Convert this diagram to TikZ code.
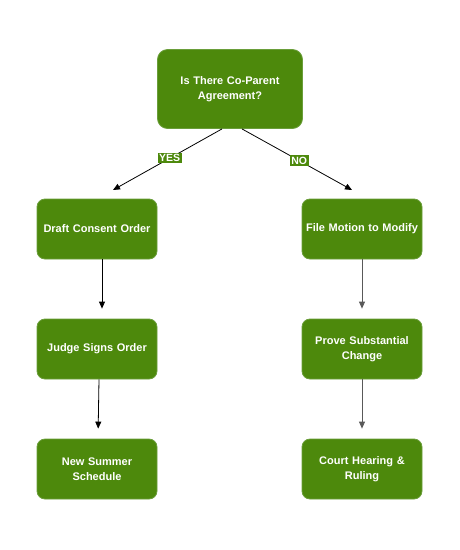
\documentclass[tikz,border=0pt]{standalone}
\usepackage{fontspec}
\setmainfont{Liberation Sans}
\usetikzlibrary{arrows.meta,calc}
\definecolor{gfill}{HTML}{4D890C}
\definecolor{gline}{HTML}{6A9E3A}
\begin{document}
\begin{tikzpicture}[x=1pt,y=-1pt,
  box/.style={draw=gline,line width=0.8pt,fill=gfill,rounded corners=8pt,
    minimum width=120pt,minimum height=60pt,align=center,text=white,
    font=\fontsize{11}{14.5}\selectfont\bfseries,inner xsep=0pt,inner ysep=2pt,text width=120pt},
  topbox/.style={box,minimum width=145pt,minimum height=79pt,rounded corners=10pt,text width=135pt},
  lbl/.style={fill=gfill,text=white,font=\fontsize{10.5}{12}\selectfont\bfseries,inner sep=1.5pt},
  arr/.style={-{Triangle[length=7pt,width=6pt]},line width=0.8pt,draw=black},
  arrg/.style={arr,draw=black!65}]
\useasboundingbox (0,0) rectangle (460,550);
\node[topbox] (q) at (230,89) {Is There Co-Parent\\Agreement?};
\node[box] (l1) at (97,229) {Draft Consent Order};
\node[box] (l2) at (97,349) {Judge Signs Order};
\node[box] (l3) at (97,469) {New Summer\\Schedule};
\node[box] (r1) at (362,229) {File Motion to Modify};
\node[box] (r2) at (362,349) {Prove Substantial\\Change};
\node[box] (r3) at (362,469) {Court Hearing \&\\Ruling};
\coordinate (ya) at (113,190);
\coordinate (na) at (352,190);
\draw[arr] ([xshift=-8pt]q.south) -- node[lbl,pos=0.48] {YES} (ya);
\draw[arr] ([xshift=12pt]q.south) -- node[lbl,pos=0.52] {NO} (na);
\draw[arr,shorten >=10pt] ([xshift=5pt]l1.south) -- ([xshift=5pt]l2.north);
\draw[arr,shorten >=10pt] ([xshift=2pt]l2.south) -- ([xshift=1pt]l3.north);
\draw[arrg,shorten >=10pt] (r1.south) -- (r2.north);
\draw[arrg,shorten >=10pt] (r2.south) -- (r3.north);
\end{tikzpicture}
\end{document}
